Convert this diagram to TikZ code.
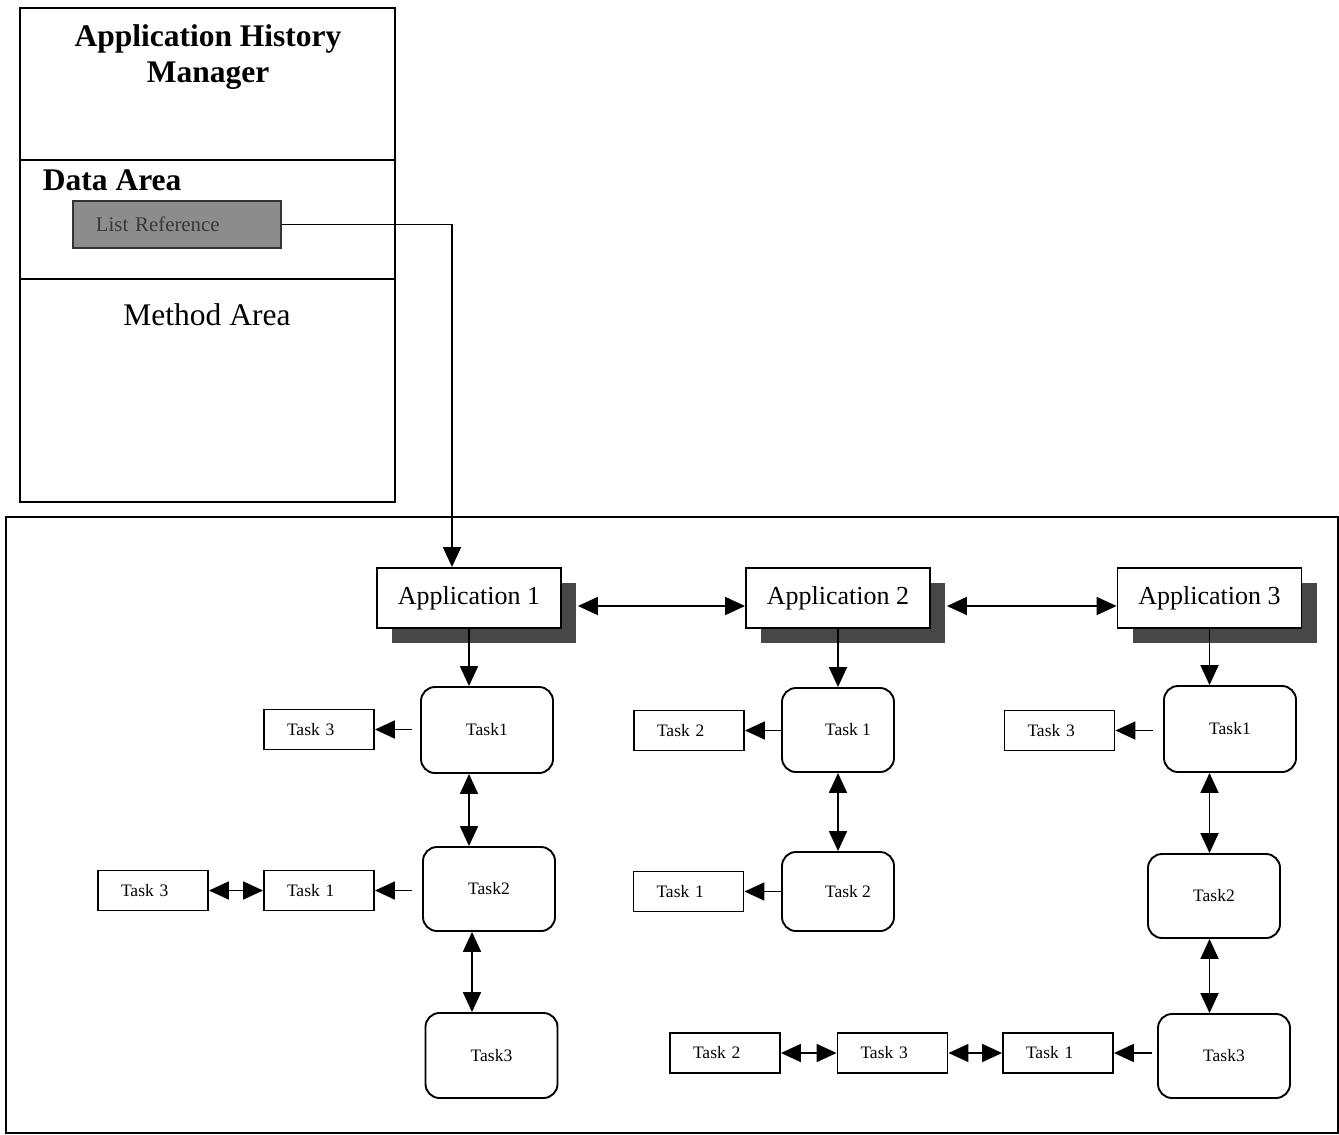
\documentclass[tikz,border=0pt]{standalone}
\usepackage{fontspec}
\setmainfont{Liberation Serif}
\usetikzlibrary{arrows.meta,shadows}

\begin{document}
\begin{tikzpicture}[x=1pt,y=-1pt,
  line width=1.9pt,
  big/.style={font=\fontsize{31.5}{36}\selectfont},
  appbox/.style={draw, fill=white, minimum width=184pt, minimum height=60pt, inner sep=0pt,
    font=\fontsize{26}{30}\selectfont,
    general shadow={fill=black!72, shadow xshift=15pt, shadow yshift=-15pt}},
  taskbox/.style={draw, rounded corners=14pt, minimum width=132pt, minimum height=86pt,
    inner sep=0pt, font=\fontsize{17.5}{20}\selectfont},
  sidebox/.style={draw, minimum height=40pt, text width=64pt, inner xsep=23pt, inner ysep=0pt,
    align=left, font=\fontsize{17.5}{20}\selectfont},
  lrbox/.style={draw=black!80, fill=black!45, text=black!78, minimum height=47pt,
    text width=162pt, inner xsep=23pt, align=left, font=\fontsize{20.8}{24}\selectfont},
  arr/.style={-{Triangle[length=20pt,width=18pt]}},
  darr/.style={{Triangle[length=20pt,width=18pt]}-{Triangle[length=20pt,width=18pt]}},
]
\useasboundingbox (0,0) rectangle (1339,1135);

% Application History Manager object
\draw (20,8) rectangle (395,160);
\draw (20,160) rectangle (395,279);
\draw (20,279) rectangle (395,502);
\node[big, font=\bfseries\fontsize{31.5}{36}\selectfont, align=center] (title) at (208,57)
  {Application History\\Manager};
\node[big, font=\bfseries\fontsize{31.5}{36}\selectfont, anchor=west, inner sep=0pt] (data) at (42,180) {Data Area};
\node[lrbox, anchor=north west] (lr) at (72,200) {List Reference};
\node[big, inner sep=0pt] (method) at (207,315) {Method Area};

% Application list frame
\draw[line width=1.5pt] (6,517) rectangle (1338,1133);

% Applications
\node[appbox] (app1) at (469,598) {Application 1};
\node[appbox] (app2) at (838,598) {Application 2};
\node[appbox] (app3) at (1209.5,598) {Application 3};

\draw[arr] (lr.east) -| ([xshift=-17pt]app1.north);
\draw[darr] ([xshift=16pt,yshift=-8pt]app1.east) -- ([yshift=-8pt]app2.west);
\draw[darr] ([xshift=16pt,yshift=-8pt]app2.east) -- ([yshift=-8pt]app3.west);

% Application 1 tasks
\node[taskbox] (t11) at (487,730) {Task1};
\node[taskbox, minimum height=84pt] (t12) at (489,889) {Task2};
\node[taskbox, minimum height=85pt] (t13) at (491.5,1055.5) {Task3};
\draw[arr] (app1.south) -- (app1.south |- t11.north);
\draw[darr] (t11.south -| app1.south) -- (t12.north -| app1.south);
\draw[darr] ([xshift=3pt]t12.south -| app1.south) -- ([xshift=3pt]t13.north -| app1.south);

\node[sidebox] (s1) at (319,729.5) {Task 3};
\node[sidebox] (s2) at (153,890.5) {Task 3};
\node[sidebox] (s3) at (319,890.5) {Task 1};
\draw[arr, shorten <=8pt] (s1.east -| t11.west) -- (s1.east);
\draw[arr, shorten <=10pt] (s3.east -| t12.west) -- (s3.east);
\draw[darr] (s2.east) -- (s3.west);

% Application 2 tasks
\node[taskbox, minimum width=112pt, minimum height=84pt] (t21) at (838,730) {\hspace*{20pt}Task 1};
\node[taskbox, minimum width=112pt, minimum height=79pt] (t22) at (838,891.5) {\hspace*{20pt}Task 2};
\draw[arr] (app2.south) -- (app2.south |- t21.north);
\draw[darr] (t21.south) -- (t22.north);

\node[sidebox] (s4) at (689,730.5) {Task 2};
\node[sidebox] (s5) at (688.5,891.5) {Task 1};
\draw[arr] (s4.east -| t21.west) -- (s4.east);
\draw[arr] (s5.east -| t22.west) -- (s5.east);

% Application 3 tasks
\node[taskbox] (t31) at (1230,729) {Task1};
\node[taskbox, minimum height=84pt] (t32) at (1214,896) {Task2};
\node[taskbox, minimum height=84pt] (t33) at (1224,1056) {Task3};
\draw[arr] (app3.south) -- (app3.south |- t31.north);
\draw[darr] (t31.south -| app3.south) -- (t32.north -| app3.south);
\draw[darr] (t32.south -| app3.south) -- (t33.north -| app3.south);

\node[sidebox] (s6) at (1059.5,730.5) {Task 3};
\node[sidebox] (s7) at (725,1053) {Task 2};
\node[sidebox] (s8) at (892.5,1053) {Task 3};
\node[sidebox] (s9) at (1058,1053) {Task 1};
\draw[arr, shorten <=10pt] (s6.east -| t31.west) -- (s6.east);
\draw[arr, shorten <=5pt] (s9.east -| t33.west) -- (s9.east);
\draw[darr] (s7.east) -- (s8.west);
\draw[darr] (s8.east) -- (s9.west);

\end{tikzpicture}
\end{document}
